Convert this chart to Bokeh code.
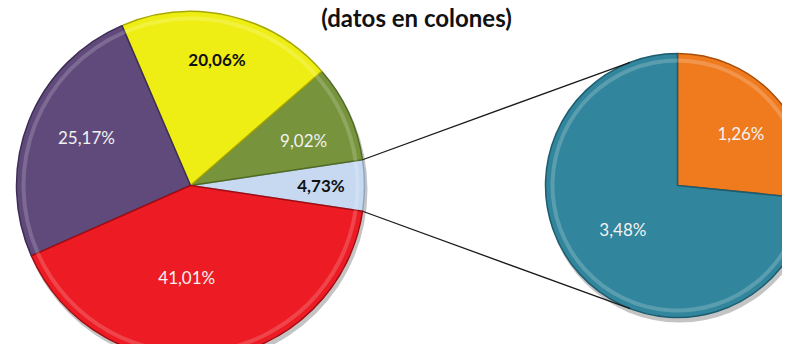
import math
from bokeh.plotting import figure
from bokeh.models import Range1d, ColumnDataSource
from bokeh.embed import file_html
from bokeh.resources import INLINE
from bokeh.core.properties import value

# ---------------- data ----------------
title_text = "(datos en colones)"
main_categories = ["Otros", "Verde", "Amarillo", "Morado", "Rojo"]
main_values = [4.73, 9.02, 20.06, 25.17, 41.01]
sub_categories = ["Naranja", "Azul"]
sub_values = [1.26, 3.48]

# ---------------- style ----------------
main_colors = ["#C6D9F1", "#77933C", "#EEEE14", "#604A7B", "#ED1C24"]
main_edges = ["#8EA6C4", "#4F6A22", "#A8A800", "#3E2E55", "#A00C12"]
main_text_colors = ["#111111", "#F2F2F2", "#111111", "#F2F2F2", "#F2F2F2"]
main_text_bold = [True, False, True, False, False]
main_label_r = [0.75, 0.70, 0.74, 0.66, 0.53]
main_label_da = [0.0, -3.0, 1.0, -3.5, -10.0]  # degrees offset from slice middle

sub_colors = ["#F07A1E", "#31859C"]
sub_edges = ["#A94E08", "#1D5C6E"]
sub_label_r = [0.62, 0.53]
sub_label_da = [-3.0, -3.5]

W, H = 782, 344


def sy(y):
    return 360 - y  # screen y -> data y


main_cx, main_cy, main_r = 190, sy(185), 174
sub_cx, sub_cy, sub_r = 677, sy(185), 132

p = figure(width=W, height=H, output_backend="svg", toolbar_location=None,
           x_range=Range1d(0, W), y_range=Range1d(360 - H, 360),
           min_border=0)
p.axis.visible = False
p.grid.visible = False
p.outline_line_color = None
p.background_fill_color = "white"
p.border_fill_color = "white"

# ---------------- main pie ----------------
tot = sum(main_values)
fr = [v / tot for v in main_values]
starts, ends = [], []
a = -fr[0] * math.pi  # "other" slice centred on the right
for f in fr:
    starts.append(a)
    a += f * 2 * math.pi
    ends.append(a)

# shadow
p.circle(x=[main_cx + 2], y=[main_cy - 4], radius=main_r + 1, fill_color="#555555",
         fill_alpha=0.35, line_color=None)
p.circle(x=[sub_cx + 2], y=[sub_cy - 4], radius=sub_r + 1, fill_color="#555555",
         fill_alpha=0.35, line_color=None)

src = ColumnDataSource(dict(x=[main_cx] * len(fr), y=[main_cy] * len(fr),
                            s=starts, e=ends, c=main_colors, lc=main_edges))
p.wedge(x="x", y="y", radius=main_r, start_angle="s", end_angle="e",
        fill_color="c", line_color="lc", line_width=1.5, source=src)
# bevel highlight
p.annular_wedge(x="x", y="y", inner_radius=main_r - 9, outer_radius=main_r - 5,
                start_angle="s", end_angle="e", fill_color="white", fill_alpha=0.18,
                line_color=None, source=src)

for i, v in enumerate(main_values):
    mid = (starts[i] + ends[i]) / 2 + math.radians(main_label_da[i])
    r = main_r * main_label_r[i]
    p.text(x=[main_cx + r * math.cos(mid)], y=[main_cy + r * math.sin(mid)],
           text=[f"{v:.2f}%".replace(".", ",")], text_align="center",
           text_baseline="middle", text_font=value("Lato"), text_font_size="17px",
           text_font_style="bold" if main_text_bold[i] else "normal",
           text_color=main_text_colors[i])

# ---------------- secondary pie ----------------
stot = sum(sub_values)
sfr = [v / stot for v in sub_values]
top = math.pi / 2
s_starts = [top - sfr[0] * 2 * math.pi, top]
s_ends = [top, top + sfr[1] * 2 * math.pi]

ssrc = ColumnDataSource(dict(x=[sub_cx] * 2, y=[sub_cy] * 2, s=s_starts, e=s_ends,
                             c=sub_colors, lc=sub_edges))
p.wedge(x="x", y="y", radius=sub_r, start_angle="s", end_angle="e",
        fill_color="c", line_color="lc", line_width=1.5, source=ssrc)
p.annular_wedge(x="x", y="y", inner_radius=sub_r - 9, outer_radius=sub_r - 5,
                start_angle="s", end_angle="e", fill_color="white", fill_alpha=0.2,
                line_color=None, source=ssrc)

for i, v in enumerate(sub_values):
    mid = (s_starts[i] + s_ends[i]) / 2 + math.radians(sub_label_da[i])
    r = sub_r * sub_label_r[i]
    p.text(x=[sub_cx + r * math.cos(mid)], y=[sub_cy + r * math.sin(mid)],
           text=[f"{v:.2f}%".replace(".", ",")], text_align="center",
           text_baseline="middle", text_font=value("Lato"), text_font_size="17px",
           text_color="#F2F2F2")

# ---------------- connector lines ----------------
x0 = [main_cx + main_r * math.cos(ends[0]), main_cx + main_r * math.cos(starts[0])]
y0 = [main_cy + main_r * math.sin(ends[0]), main_cy + main_r * math.sin(starts[0])]
conn = [math.radians(111), math.radians(249)]
x1 = [sub_cx + sub_r * math.cos(c) for c in conn]
y1 = [sub_cy + sub_r * math.sin(c) for c in conn]
p.segment(x0=x0, y0=y0, x1=x1, y1=y1, line_color="#1a1a1a", line_width=1.3)

# ---------------- title ----------------
p.text(x=[416], y=[sy(17)], text=[title_text], text_align="center",
       text_baseline="alphabetic", text_font=value("Lato"), text_font_size="24px",
       text_font_style="bold", text_color="#111111")

open("out.html", "w").write(file_html(p, INLINE))
